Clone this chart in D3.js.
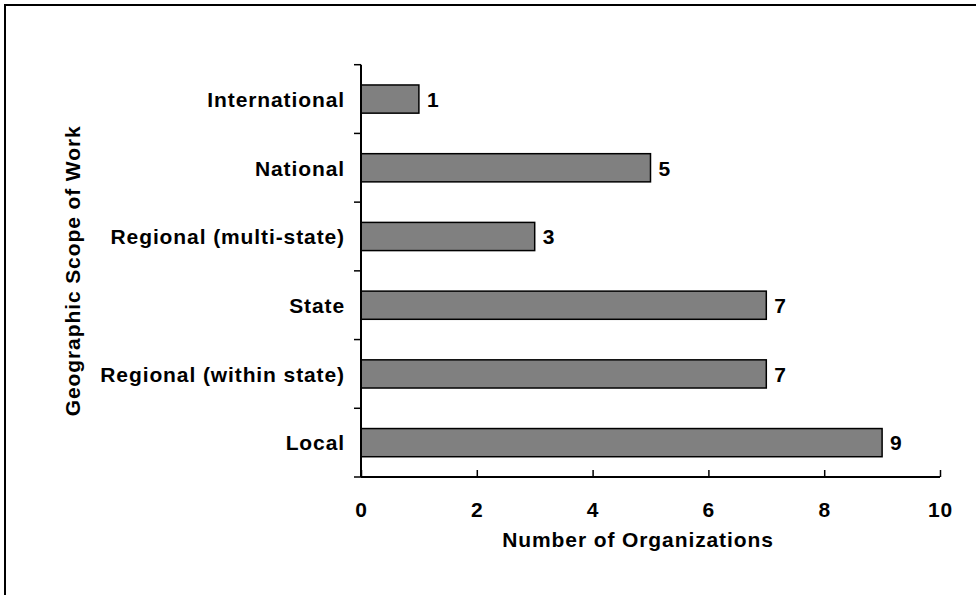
<!DOCTYPE html>
<html><head><meta charset="utf-8">
<script src="https://cdn.jsdelivr.net/npm/d3@7"></script>
<style>body{margin:0;background:#fff}svg{display:block}text{font-family:"Liberation Sans",Arial,sans-serif;font-weight:bold;fill:#000;letter-spacing:0.9px}</style>
</head><body><svg id="c" width="976" height="595"></svg>
<script>
const categories = ["International","National","Regional (multi-state)","State","Regional (within state)","Local"];
const values = [1,5,3,7,7,9];
const xTicks = [0,2,4,6,8,10];

const FS = 21;
const svg = d3.select("#c");
svg.append("rect").attr("x",5).attr("y",5).attr("width",1000).attr("height",620)
  .attr("fill","#fff").attr("stroke","#000").attr("stroke-width",2);

const pL=361, pR=940, pT=64.7, pB=477;
const x = d3.scaleLinear().domain([0,10]).range([pL,pR]);
const y = d3.scaleBand().domain(categories).range([pT,pB]).paddingInner(0.59).paddingOuter(0.295);

// bars
svg.selectAll("rect.bar").data(categories).enter().append("rect").attr("class","bar")
  .attr("x",x(0)).attr("y",d=>y(d)).attr("width",(d,i)=>x(values[i])-x(0)).attr("height",y.bandwidth())
  .attr("fill","#808080").attr("stroke","#000").attr("stroke-width",1.5);

// value labels
svg.selectAll("text.val").data(categories).enter().append("text").attr("class","val")
  .attr("x",(d,i)=>x(values[i])+8).attr("y",d=>y(d)+y.bandwidth()/2+7.8)
  .attr("font-size",FS).text((d,i)=>values[i]);

// y axis
const g = svg.append("g");
g.append("line").attr("x1",pL).attr("x2",pL).attr("y1",pT).attr("y2",pB).attr("stroke","#000").attr("stroke-width",2);
const step = (pB-pT)/categories.length;
d3.range(categories.length+1).forEach(i=>{
  g.append("line").attr("x1",pL-7).attr("x2",pL).attr("y1",pT+i*step).attr("y2",pT+i*step).attr("stroke","#000").attr("stroke-width",1.5);
});
svg.selectAll("text.cat").data(categories).enter().append("text").attr("class","cat")
  .attr("x",345).attr("y",d=>y(d)+y.bandwidth()/2+7.8).attr("text-anchor","end")
  .attr("font-size",FS).text(d=>d);

// x axis
const xa = svg.append("g").attr("transform",`translate(0,${pB})`)
  .call(d3.axisBottom(x).tickValues(xTicks).tickSize(7).tickPadding(0).tickFormat(d3.format("d")));
xa.select(".domain").attr("stroke-width",2).attr("d",`M${pL},0H${pR}`);
xa.selectAll(".tick line").attr("stroke-width",1.5).attr("y1",-7).attr("y2",0);
xa.selectAll(".tick text").attr("font-size",FS).attr("font-family","Liberation Sans, Arial, sans-serif")
  .attr("font-weight","bold").attr("y",40).attr("dy",null);

svg.append("text").attr("x",(503+773)/2).attr("y",547).attr("text-anchor","middle").attr("font-size",FS).text("Number of Organizations");
svg.append("text").attr("transform",`translate(80,${(pT+pB)/2}) rotate(-90)`).attr("text-anchor","middle").attr("font-size",FS).text("Geographic Scope of Work");
</script></body></html>
